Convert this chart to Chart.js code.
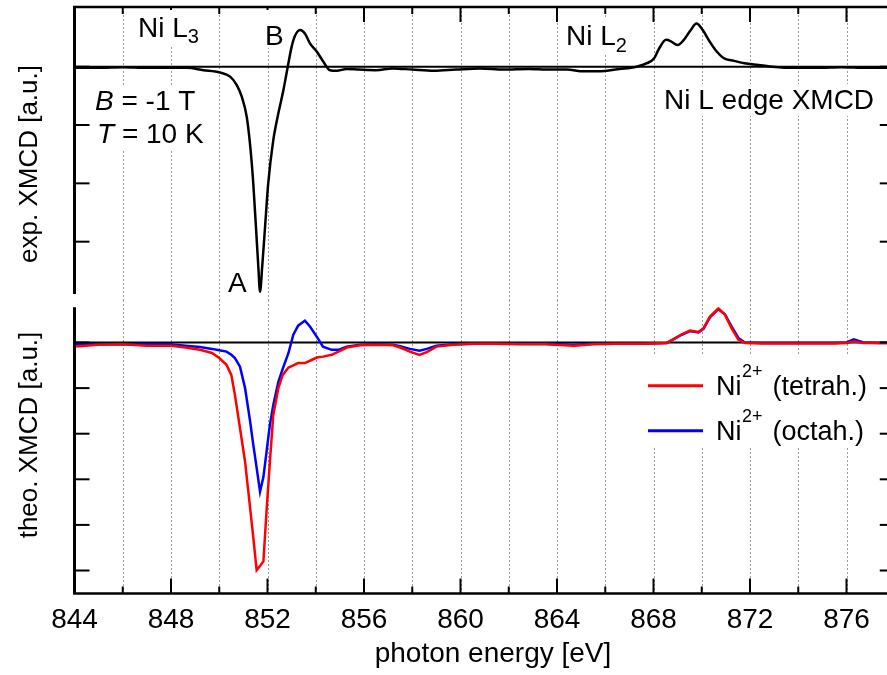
<!DOCTYPE html>
<html>
<head>
<meta charset="utf-8">
<title>Ni L edge XMCD</title>
<script src="https://cdn.jsdelivr.net/npm/chart.js@4.4.1/dist/chart.umd.min.js"></script>
<style>
  html, body { margin: 0; padding: 0; background: #fff; overflow: hidden; }
  #wrap { position: relative; width: 887px; height: 675px; overflow: hidden; background: #fff; }
  canvas { position: absolute; left: 0; }
  #expCanvas { top: 0; }
  #theoCanvas { top: 300px; }
</style>
</head>
<body>
<div id="wrap">
  <canvas id="expCanvas" width="900" height="300"></canvas>
  <canvas id="theoCanvas" width="900" height="375"></canvas>
</div>
<script>
// Measured Ni L-edge XMCD (photon energy in eV, signal in arb. units)
const expEnergy = [844, 845, 846, 847, 848, 848.65, 849.34, 850.03, 850.45, 850.72,
  850.93, 851.14, 851.3, 851.41, 851.52, 851.62, 851.69, 851.78, 851.9, 852.03,
  852.24, 852.45, 852.66, 852.84, 853.0, 853.14, 853.35, 853.55, 853.76, 854.04,
  854.31, 854.59, 854.87, 855.28, 855.8, 856.5, 857.2, 858.0, 858.9, 859.8,
  860.8, 861.8, 862.8, 863.7, 864.4, 865.1, 865.7, 866.6, 867.29, 867.73,
  868.02, 868.23, 868.52, 868.74, 869.0, 869.24, 869.53, 869.78, 870.04, 870.33,
  870.62, 870.9, 871.34, 871.77, 872.35, 872.93, 873.8, 874.8, 875.8, 876.8, 878];
const expSignal = [-0.02, -0.02, -0.01, -0.02, -0.02, -0.02, -0.06, -0.10, -0.17, -0.31,
  -0.51, -0.86, -1.43, -2.00, -2.74, -3.43, -3.86, -3.43, -2.74, -2.00,
  -1.26, -0.80, -0.40, 0.00, 0.34, 0.53, 0.63, 0.57, 0.40, 0.26,
  0.09, -0.06, -0.07, -0.04, -0.05, -0.06, -0.03, -0.05, -0.07, -0.05,
  -0.03, -0.05, -0.04, -0.05, -0.05, -0.08, -0.08, -0.04, 0.00, 0.06,
  0.14, 0.31, 0.46, 0.43, 0.37, 0.45, 0.62, 0.74, 0.63, 0.43,
  0.26, 0.15, 0.10, 0.06, 0.03, 0.00, -0.02, -0.02, -0.01, -0.02, -0.02];

// Calculated spectra for Ni2+ in tetrahedral and octahedral sites
const theoEnergy = [844, 845, 846, 847, 848, 848.6, 849.2, 849.7, 850.0, 850.3,
  850.5, 850.65, 850.86, 851.07, 851.28, 851.4, 851.55, 851.69, 851.83, 851.96,
  852.1, 852.24, 852.45, 852.63, 852.87, 853.07, 853.27, 853.55, 853.76, 854.04,
  854.3, 854.66, 854.94, 855.28, 855.83, 856.6, 857.2, 857.5, 857.9, 858.3,
  858.6, 859.0, 859.7, 860.5, 861.5, 862.5, 863.5, 864.7, 865.5, 866.5,
  867.5, 868.55, 868.82, 869.17, 869.51, 869.86, 870.07, 870.34, 870.69, 870.96,
  871.24, 871.52, 871.79, 872.5, 873.5, 874.5, 875.5, 876.0, 876.3, 876.7, 877.3, 878];
const tetraSignal = [-0.09, -0.05, -0.04, -0.07, -0.07, -0.11, -0.16, -0.23, -0.34, -0.49,
  -0.71, -1.15, -1.88, -2.61, -3.63, -4.22, -4.99, -4.90, -4.80, -3.70,
  -2.61, -1.59, -1.00, -0.71, -0.55, -0.50, -0.45, -0.45, -0.40, -0.33,
  -0.31, -0.27, -0.20, -0.11, -0.06, -0.05, -0.06, -0.11, -0.20, -0.27,
  -0.21, -0.09, -0.05, -0.03, -0.03, -0.04, -0.04, -0.07, -0.04, -0.03,
  -0.03, -0.01, 0.07, 0.18, 0.26, 0.23, 0.31, 0.57, 0.75, 0.61,
  0.31, 0.06, -0.01, -0.02, -0.02, -0.02, -0.02, -0.01, 0.02, -0.01, -0.01, -0.01];
const octaSignal = [-0.04, -0.04, -0.04, -0.04, -0.04, -0.07, -0.10, -0.14, -0.17, -0.20,
  -0.27, -0.34, -0.53, -1.00, -1.73, -2.20, -2.75, -3.27, -2.95, -2.40,
  -1.80, -1.37, -0.86, -0.58, -0.23, 0.17, 0.37, 0.48, 0.35, 0.13,
  -0.09, -0.16, -0.16, -0.09, -0.05, -0.04, -0.05, -0.08, -0.14, -0.18,
  -0.14, -0.07, -0.04, -0.03, -0.03, -0.03, -0.03, -0.05, -0.03, -0.03,
  -0.03, -0.01, 0.07, 0.17, 0.25, 0.22, 0.30, 0.55, 0.73, 0.62,
  0.35, 0.10, 0.00, -0.01, -0.01, -0.01, -0.01, 0.00, 0.07, 0.00, -0.01, -0.01];

// Axis ticks
const gridEnergies = [846, 848, 850, 852, 854, 856, 858, 860, 862, 864, 866, 868, 870, 872, 874, 876];
const xTickLabels = [844, 848, 852, 856, 860, 864, 868, 872, 876];
const expTicks = [0, -1, -2, -3];
const theoTicks = [0, -1, -2, -3, -4, -5];

const FONT = '"Liberation Sans", Arial, Helvetica, sans-serif';

function toPoints(xs, ys) { return xs.map((x, i) => ({ x: x, y: ys[i] })); }

function whiteBox(ctx, x, y, w, h) { ctx.fillStyle = '#fff'; ctx.fillRect(x, y, w, h); }

function line(ctx, x1, y1, x2, y2, w) {
  ctx.lineWidth = w; ctx.beginPath(); ctx.moveTo(x1, y1); ctx.lineTo(x2, y2); ctx.stroke();
}

// Text with a subscript, e.g. "Ni L" + "3"
function textSub(ctx, main, sub, x, y, size, subSize, drop) {
  ctx.font = size + 'px ' + FONT;
  ctx.fillText(main, x, y);
  const w = ctx.measureText(main).width;
  ctx.font = subSize + 'px ' + FONT;
  ctx.fillText(sub, x + w, y + drop);
}

const framePlugin = {
  id: 'frame',
  beforeDatasetsDraw(chart, args, opts) {
    const { ctx, chartArea: a } = chart;
    const x = chart.scales.x, y = chart.scales.y;
    ctx.save();
    // dotted vertical grid
    ctx.strokeStyle = '#9a9a9a';
    ctx.lineWidth = 1;
    ctx.setLineDash([2, 2]);
    for (const e of gridEnergies) {
      const px = Math.round(x.getPixelForValue(e)) + 0.5;
      ctx.beginPath();
      ctx.moveTo(px, opts.gridTop);
      ctx.lineTo(px, opts.gridBottom);
      ctx.stroke();
    }
    ctx.setLineDash([]);
    // zero line
    ctx.strokeStyle = '#000';
    const y0 = y.getPixelForValue(0);
    line(ctx, a.left, y0, chart.width, y0, 2);
    ctx.restore();
  },
  afterDatasetsDraw(chart, args, opts) {
    const { ctx, chartArea: a } = chart;
    const x = chart.scales.x, y = chart.scales.y;
    ctx.save();
    ctx.strokeStyle = '#000';
    ctx.fillStyle = '#000';
    ctx.lineCap = 'butt';
    // left axis segment of this panel
    line(ctx, a.left, a.top, a.left, a.bottom, 3);
    // horizontal frame edge and x ticks
    const edge = opts.panel === 'top' ? a.top : a.bottom;
    const dir = opts.panel === 'top' ? 1 : -1;
    line(ctx, a.left - 1.5, edge, chart.width, edge, opts.panel === 'top' ? 2.3 : 2.5);
    for (const e of gridEnergies) {
      const px = x.getPixelForValue(e);
      const len = (e % 4 === 0) ? 15 : 7;
      line(ctx, px, edge, px, edge + dir * len, 2);
    }
    // y ticks on both sides
    for (const v of opts.yTicks) {
      const py = y.getPixelForValue(v);
      line(ctx, a.left, py, a.left + 15, py, 2);
      line(ctx, a.right - 15, py, a.right, py, 2);
    }
    if (opts.panel === 'top') drawTopTexts(chart, ctx);
    else drawBottomTexts(chart, ctx);
    ctx.restore();
  }
};

function drawTopTexts(chart, ctx) {
  ctx.textBaseline = 'alphabetic';
  ctx.textAlign = 'left';
  // panel annotations
  whiteBox(ctx, 135, 10, 66, 37);
  ctx.fillStyle = '#000';
  textSub(ctx, 'Ni L', '3', 138, 37, 28, 20, 6);

  whiteBox(ctx, 263, 10, 26, 38);
  ctx.fillStyle = '#000';
  ctx.font = '28px ' + FONT;
  ctx.fillText('B', 265, 45);

  whiteBox(ctx, 226, 268, 25, 25);
  ctx.fillStyle = '#000';
  ctx.fillText('A', 228, 292);

  whiteBox(ctx, 563, 18, 64, 36);
  ctx.fillStyle = '#000';
  textSub(ctx, 'Ni L', '2', 566, 45, 28, 20, 6.5);

  whiteBox(ctx, 92, 86, 112, 64);
  ctx.fillStyle = '#000';
  ctx.font = 'italic 28px ' + FONT;
  ctx.fillText('B', 95, 110);
  let w = ctx.measureText('B').width;
  ctx.font = '28px ' + FONT;
  ctx.fillText(' = -1 T', 95 + w, 110);
  ctx.font = 'italic 28px ' + FONT;
  ctx.fillText('T', 97, 143);
  w = ctx.measureText('T').width;
  ctx.font = '28px ' + FONT;
  ctx.fillText(' = 10 K', 97 + w, 143);

  whiteBox(ctx, 660, 84, 218, 32);
  ctx.fillStyle = '#000';
  ctx.fillText('Ni L edge XMCD', 664, 109);

  // y-axis title
  ctx.save();
  ctx.translate(37, 164);
  ctx.rotate(-Math.PI / 2);
  ctx.textAlign = 'center';
  ctx.font = '26px ' + FONT;
  ctx.fillText('exp. XMCD [a.u.]', 0, 0);
  ctx.restore();
}

function drawBottomTexts(chart, ctx) {
  const x = chart.scales.x;
  ctx.fillStyle = '#000';
  ctx.textBaseline = 'alphabetic';
  // x tick labels
  ctx.font = '28px ' + FONT;
  ctx.textAlign = 'center';
  for (const e of xTickLabels) {
    ctx.fillText(String(e), x.getPixelForValue(e), 328);
  }
  ctx.fillText('photon energy [eV]', 493, 362);

  // y-axis title
  ctx.save();
  ctx.translate(37, 135);
  ctx.rotate(-Math.PI / 2);
  ctx.font = '26px ' + FONT;
  ctx.fillText('theo. XMCD [a.u.]', 0, 0);
  ctx.restore();

  // legend
  ctx.textAlign = 'left';
  whiteBox(ctx, 643, 54, 232, 92);
  const entries = [
    { color: '#ff0000', label: '(tetrah.)', y: 95 },
    { color: '#0000ff', label: '(octah.)', y: 140 }
  ];
  for (const en of entries) {
    ctx.strokeStyle = en.color;
    line(ctx, 648, en.y - 9.3, 703, en.y - 9.3, 3);
    ctx.fillStyle = '#000';
    ctx.font = '27px ' + FONT;
    ctx.fillText('Ni', 716, en.y);
    ctx.font = '18px ' + FONT;
    ctx.fillText('2+', 742, en.y - 18);
    ctx.font = '27px ' + FONT;
    ctx.fillText(en.label, 772.5, en.y);
  }
}

const common = {
  responsive: false,
  animation: false,
  devicePixelRatio: 1,
  events: [],
  plugins: { legend: { display: false }, tooltip: { enabled: false } }
};

// upper panel: measured spectrum
new Chart(document.getElementById('expCanvas'), {
  type: 'line',
  data: {
    datasets: [{
      data: toPoints(expEnergy, expSignal),
      borderColor: '#000',
      borderWidth: 2.5,
      pointRadius: 0,
      cubicInterpolationMode: 'monotone'
    }]
  },
  options: Object.assign({}, common, {
    layout: { padding: { left: 74.5, right: 5.25, top: 7, bottom: 6 } },
    scales: {
      x: { type: 'linear', min: 844, max: 878, display: false },
      y: { type: 'linear', min: -3.897, max: 1.0235, display: false }
    },
    plugins: Object.assign({}, common.plugins, {
      frame: { panel: 'top', yTicks: expTicks, gridTop: 7, gridBottom: 300 }
    })
  }),
  plugins: [framePlugin]
});

// lower panel: calculated spectra
new Chart(document.getElementById('theoCanvas'), {
  type: 'line',
  data: {
    datasets: [
      { data: toPoints(theoEnergy, tetraSignal), borderColor: '#ff0000', borderWidth: 2.5, pointRadius: 0, tension: 0 },
      { data: toPoints(theoEnergy, octaSignal), borderColor: '#0000ff', borderWidth: 2.5, pointRadius: 0, tension: 0 }
    ]
  },
  options: Object.assign({}, common, {
    layout: { padding: { left: 74.5, right: 5.25, top: 7.3, bottom: 81.5 } },
    scales: {
      x: { type: 'linear', min: 844, max: 878, display: false },
      y: { type: 'linear', min: -5.504, max: 0.772, display: false }
    },
    plugins: Object.assign({}, common.plugins, {
      frame: { panel: 'bottom', yTicks: theoTicks, gridTop: 0, gridBottom: 293.5 }
    })
  }),
  plugins: [framePlugin]
});
</script>
</body>
</html>
